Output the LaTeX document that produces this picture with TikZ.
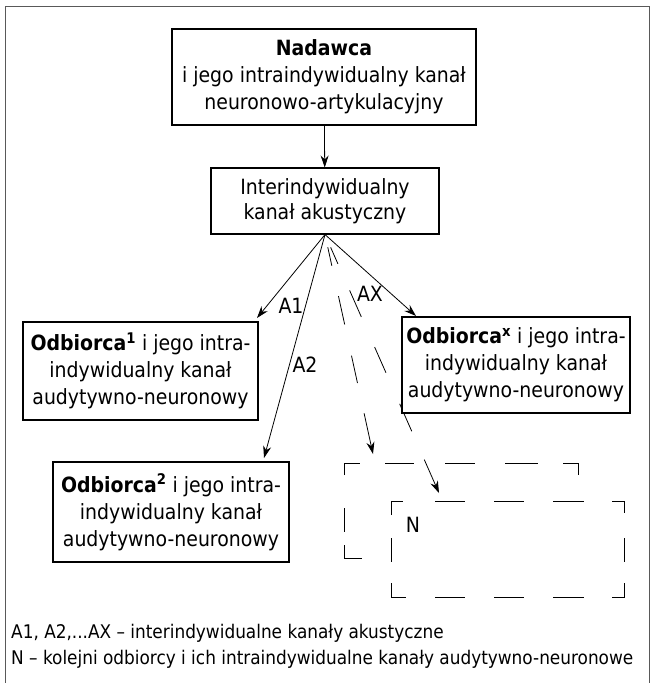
\documentclass[tikz,border=0pt]{standalone}
\usepackage{fontspec}
\setmainfont{DejaVu Sans Condensed}
\usetikzlibrary{arrows.meta}
\begin{document}
\begin{tikzpicture}[x=1pt,y=-1pt,
  txt/.style={font=\fontsize{21}{27}\selectfont},
  legend/.style={font=\fontsize{18.8}{25}\selectfont, anchor=west, inner sep=0pt},
  box/.style={txt, draw, line width=1.1pt, fill=white, align=center, inner sep=0pt},
  link/.style={line width=0.8pt, -{Stealth[length=12pt,width=8pt]}},
  dlink/.style={line width=0.8pt, -{Stealth[length=12pt,width=8pt]}},
  dbox/.style={line width=1pt},
  frame/.style={line width=0.8pt, black!65}
]
\useasboundingbox (0,0) rectangle (656,683);
% outer frame (open at the bottom)
\draw[frame] (5,683) -- (5,6) -- (649,6) -- (649,683);

% free ends of the connectors
\coordinate (t1) at (257,318);
\coordinate (t2) at (264,458);
\coordinate (tx) at (416,316);
\coordinate (tn1) at (373,454);
\coordinate (tn2) at (439,493);

\node[box, minimum width=304pt, minimum height=96pt] (nad) at (324,77)
  {\textbf{Nadawca}\\ i jego intraindywidualny kanał\\ neuronowo-artykulacyjny};
\node[box, minimum width=228pt, minimum height=66pt, font=\fontsize{21}{25}\selectfont] (inter) at (325,201)
  {Interindywidualny\\ kanał akustyczny};

% dashed channels towards further receivers
\draw[dlink, dash pattern=on 0pt off 13pt on 19pt off 31pt on 29pt off 32pt on 28pt off 31pt on 100pt] (inter.south) -- (tn1);
\draw[dlink, dash pattern=on 0pt off 14pt on 18pt off 29pt on 29pt off 33pt on 28pt off 34pt on 30pt off 31pt on 100pt] (inter.south) -- (tn2);

\draw[link] (nad) -- (inter);
\draw[link] (inter.south) -- (t1);
\draw[link] (inter.south) -- (t2);
\draw[link] (inter.south) -- (tx);

\node[txt] (a1) at (291,306) {A1};
\node[txt] (a2) at (305,365) {A2};
\node[txt] (ax) at (370,294) {AX};

\node[box, minimum width=235pt, minimum height=98pt] (odb1) at (140.5,371)
  {\textbf{Odbiorca\textsuperscript{1}} i jego intra-\\ indywidualny kanał\\ audytywno-neuronowy};
\node[box, minimum width=228pt, minimum height=96pt] (odbx) at (516,365)
  {\textbf{Odbiorca\textsuperscript{x}} i jego intra-\\ indywidualny kanał\\ audytywno-neuronowy};
\node[box, minimum width=236pt, minimum height=100pt] (odb2) at (171,512)
  {\textbf{Odbiorca\textsuperscript{2}} i jego intra-\\ indywidualny kanał\\ audytywno-neuronowy};

% back dashed box
\draw[dbox] (344,475) -- (344,463) -- (360,463);
\draw[dbox] (385,463) -- (414,463) (445,463) -- (475,463) (505,463) -- (538,463);
\draw[dbox] (563,463) -- (578,463) -- (578,475);
\draw[dbox] (344,508) -- (344,532);
\draw[dbox] (344,545) -- (344,558) -- (362,558);
% front dashed box
\fill[white] (391,501) rectangle (624,597);
\draw[dbox] (391,515) -- (391,501) -- (403,501);
\draw[dbox] (435,501) -- (465,501) (494,501) -- (524,501) (553,501) -- (584,501);
\draw[dbox] (612,501) -- (624,501) -- (624,513);
\draw[dbox] (391,538) -- (391,562) (624,538) -- (624,562);
\draw[dbox] (391,583) -- (391,597) -- (406,597);
\draw[dbox] (435,597) -- (465,597) (494,597) -- (524,597) (553,597) -- (584,597);
\draw[dbox] (612,597) -- (624,597) -- (624,583);
\node[txt] (n) at (413,525) {N};

% legend
\node[legend] (leg1) at (11,633) {A1, A2,...AX – interindywidualne kanały akustyczne};
\node[legend] (leg2) at (11,659) {N – kolejni odbiorcy i ich intraindywidualne kanały audytywno-neuronowe};
\end{tikzpicture}
\end{document}
